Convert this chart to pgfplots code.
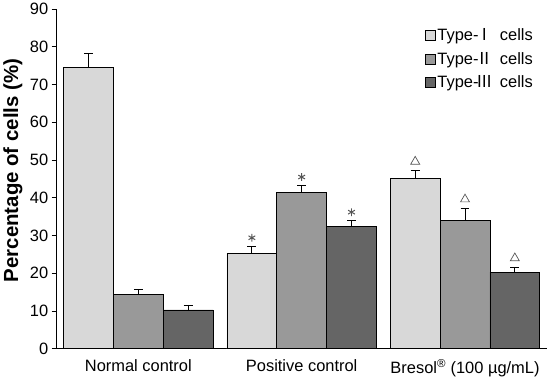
\documentclass[border=0pt]{standalone}
\usepackage{fontspec}
\setmainfont{Liberation Sans}
\newfontfamily\cjk{Noto Sans CJK SC}
\usepackage{pgfplots}
\pgfplotsset{compat=1.18}
\definecolor{cI}{HTML}{D8D8D8}
\definecolor{cII}{HTML}{999999}
\definecolor{cIII}{HTML}{656565}
\definecolor{mk}{HTML}{555555}
\begin{document}
\begin{tikzpicture}
\begin{axis}[
  name=ax,
  scale only axis,
  width=492pt, height=341pt,
  xmin=-0.5, xmax=2.5,
  ymin=0, ymax=90,
  ytick={0,10,...,90},
  axis x line*=bottom, axis y line*=left,
  axis line style={-, line width=0.8pt},
  tick align=outside,
  major tick length=5pt,
  tick style={black, line width=0.8pt},
  xtick={0,1,2},
  xticklabels={Normal control, Positive control, Bresol\textsuperscript{®} (100 µg/mL)},
  major x tick style={draw=none},
  extra x ticks={0.5,1.5,2.5},
  extra x tick labels={},
  extra x tick style={major tick length=6pt, tick style={draw=black}},
  x tick label style={yshift=-2pt},
  /pgf/number format/assume math mode=true,
  tick label style={font=\fontsize{16.5}{18}\selectfont},
  ylabel={Percentage of cells (\%)},
  ylabel style={font=\fontsize{20.5}{22}\selectfont\bfseries, at={(axis description cs:-0.0894,0.525)}, anchor=center},
  legend style={draw=none, fill=none, at={(0.745,0.955)}, anchor=north west,
    font=\fontsize{16.5}{18}\selectfont, row sep=6pt, legend cell align=left},
  ybar, bar width=0.305, bar shift=0,
  legend image code/.code={\draw[#1, draw=black, line width=0.6pt] (0pt,-5pt) rectangle (10pt,5pt);},
  error bars/error bar style={black, line width=0.8pt},
  error bars/error mark options={rotate=90, black, line width=0.8pt, mark size=4.5pt},
]
\addplot[fill=cI, draw=black, line width=0.6pt,
  error bars/.cd, y dir=plus, y explicit]
  coordinates {(-0.305,74.6) +- (0,3.7) (0.695,25.3) +- (0,1.9) (1.695,45.1) +- (0,2.1)};
\addlegendentry{Type-\hspace{-0.15em}{\cjk Ⅰ}\hspace{0.45em}cells}
\addplot[fill=cII, draw=black, line width=0.6pt,
  error bars/.cd, y dir=plus, y explicit]
  coordinates {(0,14.5) +- (0,1.3) (1,41.4) +- (0,1.9) (2,34.0) +- (0,3.2)};
\addlegendentry{Type-\hspace{-0.15em}{\cjk Ⅱ}\hspace{0.45em}cells}
\addplot[fill=cIII, draw=black, line width=0.6pt,
  error bars/.cd, y dir=plus, y explicit]
  coordinates {(0.305,10.3) +- (0,1.3) (1.305,32.5) +- (0,1.5) (2.305,20.3) +- (0,1.3)};
\addlegendentry{Type-\hspace{-0.15em}{\cjk Ⅲ}\hspace{0.45em}cells}
% significance markers
\addplot[only marks, mark=asterisk, mark size=3.9pt, mark options={mk, line width=1pt}, forget plot]
  coordinates {(0.695,29.4) (1,45.5) (1.305,36.2)};
\addplot[only marks, mark=triangle, mark size=5.2pt, mark options={draw=mk, fill=white, line width=0.7pt}, forget plot]
  coordinates {(1.695,49.6) (2,39.6) (2.305,24.0)};
\end{axis}
\path ([xshift=-56pt,yshift=-24pt]ax.south west) rectangle ([xshift=2pt,yshift=6pt]ax.north east);
\end{tikzpicture}
\end{document}
